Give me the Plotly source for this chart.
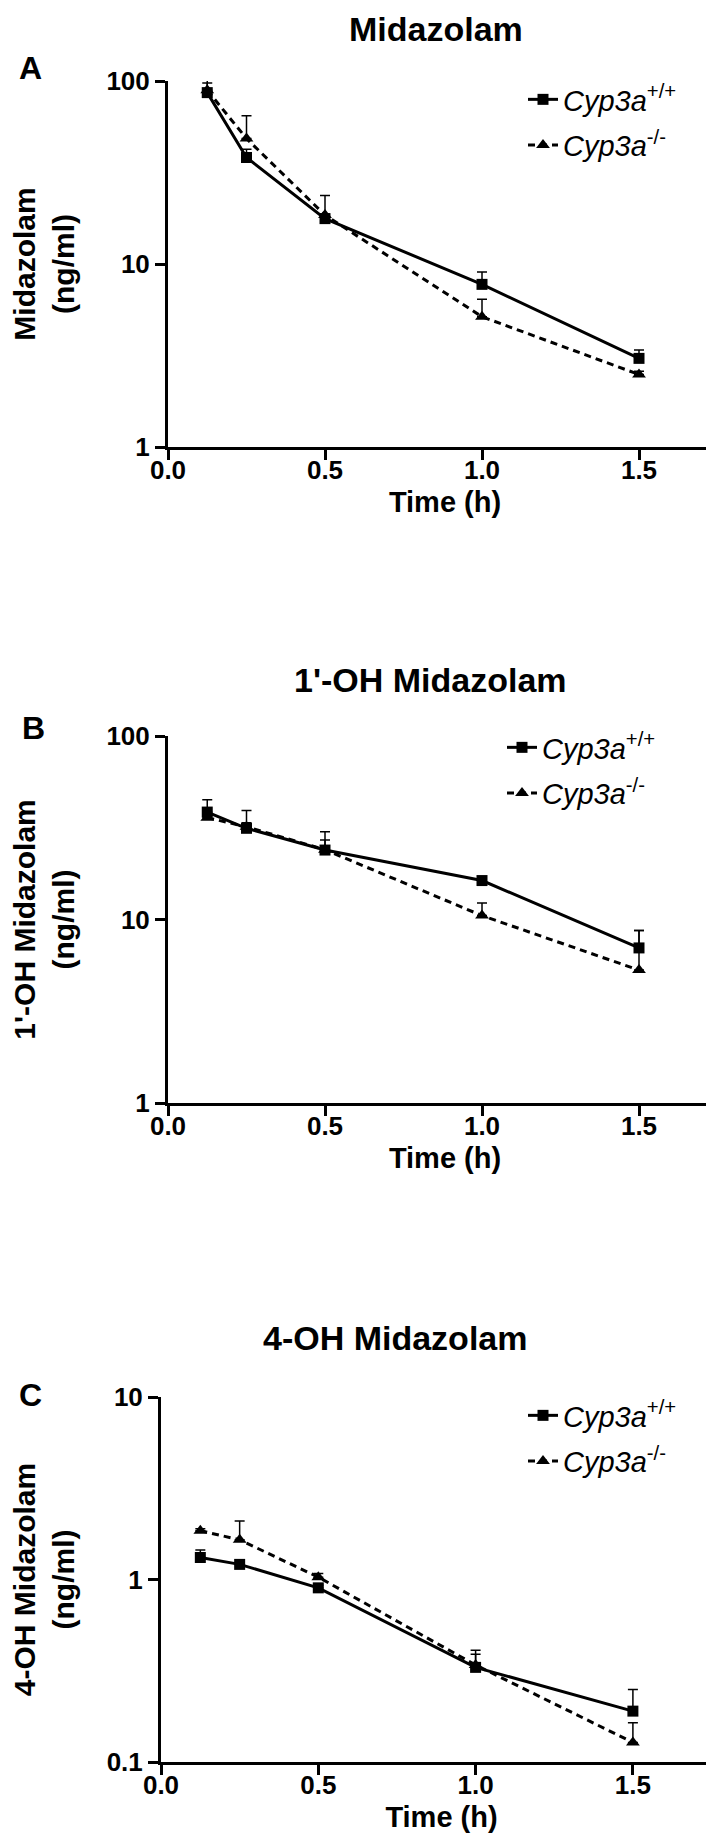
import plotly.graph_objects as go

# ---------------- data ----------------
time_h = [0.125, 0.25, 0.5, 1.0, 1.5]
x_tick_vals = [0, 0.5, 1.0, 1.5]
x_tick_text = ["0.0", "0.5", "1.0", "1.5"]

series_names = ["<i>Cyp3a</i><sup>+/+</sup>", "<i>Cyp3a</i><sup>-/-</sup>"]

# Panel A: Midazolam (ng/ml)
mdz_wt = [86.4, 38.2, 17.7, 7.74, 3.05]
mdz_wt_err = [11.0, 4.2, 1.0, 1.3, 0.34]
mdz_ko = [89.0, 48.5, 18.5, 5.15, 2.49]
mdz_ko_err = [12.0, 16.1, 5.2, 1.26, 0.1]

# Panel B: 1'-OH Midazolam (ng/ml)
oh1_wt = [38.5, 31.4, 23.9, 16.3, 7.0]
oh1_wt_err = [6.4, 2.3, 3.2, 0.4, 1.7]
oh1_ko = [35.9, 32.0, 24.0, 10.5, 5.3]
oh1_ko_err = [1.0, 7.3, 6.1, 1.8, 3.4]

# Panel C: 4-OH Midazolam (ng/ml)
oh4_wt = [1.32, 1.21, 0.90, 0.33, 0.19]
oh4_wt_err = [0.13, 0.03, 0.03, 0.08, 0.06]
oh4_ko = [1.85, 1.65, 1.03, 0.34, 0.128]
oh4_ko_err = [0.05, 0.44, 0.05, 0.05, 0.036]

panel_titles = ["Midazolam", "1'-OH Midazolam", "4-OH Midazolam"]
panel_letters = ["A", "B", "C"]
y_titles = ["Midazolam<br>(ng/ml)", "1'-OH Midazolam<br>(ng/ml)", "4-OH Midazolam<br>(ng/ml)"]
y_tick_vals = [[1, 10, 100], [1, 10, 100], [0.1, 1, 10]]
y_tick_text = [["1", "10", "100"], ["1", "10", "100"], ["0.1", "1", "10"]]
y_log_ranges = [[0, 2], [0, 2], [-1, 1]]

# ---------------- layout geometry ----------------
W, H = 714, 1845
ML, MR = 150, 0
PW = W - ML - MR
FONT = "Arial, Liberation Sans, sans-serif"

def fy(p):
    return 1 - p / H

def fx(p):
    return (p - ML) / PW

# pixel geometry of each panel
geo = [
    dict(x0=160, top=73, bot=439, ppu=314.0, title=(428, 0), letter=(22, 60), leg=(515, 66)),
    dict(x0=160, top=728, bot=1095, ppu=314.0, title=(422, 651), letter=(25, 720), leg=(494, 714)),
    dict(x0=153, top=1389, bot=1754, ppu=314.6, title=(387, 1309), letter=(22, 1387), leg=(515, 1382)),
]

fig = go.Figure()

data_sets = [
    (mdz_wt, mdz_wt_err, mdz_ko, mdz_ko_err),
    (oh1_wt, oh1_wt_err, oh1_ko, oh1_ko_err),
    (oh4_wt, oh4_wt_err, oh4_ko, oh4_ko_err),
]

for i, (wt, wte, ko, koe) in enumerate(data_sets):
    sfx = "" if i == 0 else str(i + 1)
    leg = "legend" if i == 0 else "legend" + str(i + 1)
    zeros = [0] * len(time_h)
    fig.add_trace(go.Scatter(
        x=time_h, y=wt, name=series_names[0], mode="lines+markers",
        xaxis="x" + sfx, yaxis="y" + sfx, legend=leg, legendgroup="wt%d" % i,
        line=dict(color="black", width=3),
        marker=dict(symbol="square", size=11, color="black"),
        error_y=dict(type="data", symmetric=False, array=wte, arrayminus=zeros,
                     color="black", thickness=1.5, width=5),
        cliponaxis=False,
    ))
    fig.add_trace(go.Scatter(
        x=time_h, y=ko, name=series_names[1], mode="lines+markers",
        xaxis="x" + sfx, yaxis="y" + sfx, legend=leg, legendgroup="ko%d" % i,
        line=dict(color="black", width=3, dash="7px,5px"),
        marker=dict(symbol="triangle-up", size=12, color="black"),
        error_y=dict(type="data", symmetric=False, array=koe, arrayminus=zeros,
                     color="black", thickness=1.5, width=5),
        cliponaxis=False,
    ))

layout = dict(
    width=W, height=H,
    margin=dict(l=ML, r=MR, t=0, b=0),
    paper_bgcolor="white", plot_bgcolor="white",
    font=dict(family=FONT, color="black"),
    showlegend=True,
)

ann = []
for i, g in enumerate(geo):
    sfx = "" if i == 0 else str(i + 1)
    xmax = (W - g["x0"]) / g["ppu"]
    layout["xaxis" + sfx] = dict(
        domain=[fx(g["x0"]), 1.0], range=[0, xmax], anchor="y" + sfx,
        showline=True, linewidth=3, linecolor="black",
        ticks="outside", ticklen=10, tickwidth=3, tickcolor="black",
        tickvals=x_tick_vals, ticktext=x_tick_text,
        tickfont=dict(size=26, family=FONT, weight="bold"),
        ticklabelstandoff=-12,
        showgrid=False, zeroline=False, automargin=False,
        title=dict(text="Time (h)", font=dict(size=29, family=FONT, weight="bold"), standoff=8),
    )
    layout["yaxis" + sfx] = dict(
        domain=[fy(g["bot"]), fy(g["top"])], type="log", range=y_log_ranges[i],
        anchor="x" + sfx,
        showline=True, linewidth=3, linecolor="black",
        ticks="outside", ticklen=10, tickwidth=3, tickcolor="black",
        tickvals=y_tick_vals[i], ticktext=y_tick_text[i],
        tickfont=dict(size=26, family=FONT, weight="bold"),
        showgrid=False, zeroline=False, automargin=False,
        title=dict(text=y_titles[i], font=dict(size=30, family=FONT, weight="bold"), standoff=34),
    )
    lname = "legend" if i == 0 else "legend" + str(i + 1)
    layout[lname] = dict(
        x=fx(g["leg"][0]), y=fy(g["leg"][1]), xanchor="left", yanchor="top",
        bgcolor="rgba(0,0,0,0)", font=dict(size=29, family=FONT),
        tracegroupgap=5, traceorder="grouped",
    )
    ann.append(dict(
        text="<b>%s</b>" % panel_titles[i], xref="paper", yref="paper",
        x=fx(g["title"][0]), y=fy(g["title"][1]), xanchor="center", yanchor="top",
        showarrow=False, font=dict(size=34, family=FONT),
    ))
    ann.append(dict(
        text="<b>%s</b>" % panel_letters[i], xref="paper", yref="paper",
        x=fx(g["letter"][0]), y=fy(g["letter"][1]), xanchor="center", yanchor="middle",
        showarrow=False, font=dict(size=32, family=FONT),
    ))

layout["annotations"] = ann
fig.update_layout(**layout)
fig.write_html("out.html")
